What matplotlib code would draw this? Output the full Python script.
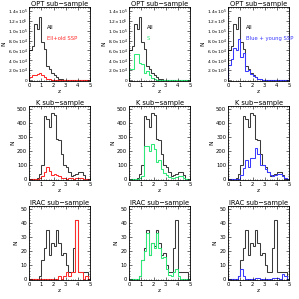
import numpy as np
import matplotlib
matplotlib.use("Agg")
import matplotlib.pyplot as plt
from matplotlib.ticker import MultipleLocator, FixedLocator, FixedFormatter

# bin edges (z), 0.2 wide
z_edges = np.round(np.arange(0, 5.0001, 0.2), 2)

# ---------------- OPT sub-sample (units of 1e4) ----------------
opt_all = [6.0, 7.0, 11.3, 10.3, 12.7, 7.8, 6.3, 2.8, 2.2, 1.5, 1.0, 0.6, 0.35,
           0.2, 0.12, 0.08, 0.05, 0.03, 0.02, 0.01, 0, 0, 0, 0, 0]
opt_ell = [0.6, 1.0, 1.1, 1.3, 1.5, 1.0, 0.6, 0.35, 0.2, 0.1, 0.05, 0.03, 0,
           0, 0, 0, 0, 0, 0, 0, 0, 0, 0, 0, 0]
opt_s = [2.2, 2.2, 5.3, 5.3, 3.4, 3.3, 1.5, 1.8, 1.0, 0.5, 0.3, 0.15, 0.1,
         0.05, 0.03, 0, 0, 0, 0, 0, 0, 0, 0, 0, 0]
opt_blue = [3.1, 4.3, 6.6, 6.0, 8.3, 4.6, 5.5, 1.8, 2.1, 1.3, 0.9, 0.6, 0.35,
            0.2, 0.12, 0.08, 0.05, 0.03, 0.02, 0, 0, 0, 0, 0, 0]

# ---------------- K sub-sample ----------------
k_all = [0, 0, 0, 10, 40, 100, 450, 430, 370, 470, 460, 290, 280,
         180, 100, 85, 50, 20, 30, 40, 55, 50, 30, 5, 0]
k_ell = [3, 3, 3, 3, 8, 20, 55, 85, 60, 30, 40, 30, 20,
         10, 8, 5, 12, 10, 5, 8, 10, 8, 5, 2, 0]
k_s = [2, 2, 2, 2, 10, 20, 240, 240, 200, 250, 215, 120, 135,
       70, 45, 30, 15, 10, 10, 15, 20, 25, 10, 5, 0]
k_blue = [2, 2, 2, 2, 5, 30, 80, 140, 90, 150, 150, 225, 180,
          100, 100, 70, 50, 30, 25, 30, 40, 35, 25, 10, 0]

# ---------------- IRAC sub-sample ----------------
irac_all = [0, 0, 0, 0, 2, 14, 22, 35, 17, 26, 24, 35, 26,
            17, 19, 10, 5, 5, 22, 42, 5, 5, 5, 5, 0]
irac_ell = [0, 0, 0, 0, 0, 0, 0, 0, 0, 0, 0, 0, 2,
            0, 2, 5, 2, 5, 5, 42, 5, 5, 0, 2, 0]
irac_s = [0, 0, 0, 0, 2, 14, 20, 33, 17, 26, 22, 33, 22,
          15, 16, 7, 3, 2, 5, 7, 2, 0, 0, 0, 0]
irac_blue = [0, 0, 0, 0, 2, 7, 2, 0, 0, 0, 0, 1, 1,
             0, 0, 0, 0, 0, 1, 1, 1, 0, 4, 2, 0]

row_titles = ["OPT sub\u2212sample", "K sub\u2212sample", "IRAC sub\u2212sample"]
col_labels = ["Ell+old SSP", "S", "Blue + young SSP"]
col_colors = ["#ff2a2a", "#2ee878", "#3a3aff"]
all_color = "#3a3a3a"

rows = [
    (opt_all, [opt_ell, opt_s, opt_blue], 1e4),
    (k_all, [k_ell, k_s, k_blue], 1.0),
    (irac_all, [irac_ell, irac_s, irac_blue], 1.0),
]

opt_ticks = [0, 2e4, 4e4, 6e4, 8e4, 1e5, 1.2e5, 1.4e5]
opt_ticklabels = ["0", r"$2.0{\times}10^4$", r"$4.0{\times}10^4$", r"$6.0{\times}10^4$",
                  r"$8.0{\times}10^4$", r"$1.0{\times}10^5$", r"$1.2{\times}10^5$",
                  r"$1.4{\times}10^5$"]

W = H = 299
fig = plt.figure(figsize=(2.99, 2.99), dpi=100)
plt.rcParams['font.family'] = ['DejaVu Sans']
plt.rcParams['mathtext.fontset'] = 'dejavusans'

lefts = [29.3, 129.3, 228.3]
tops = [7.3, 106.3, 206.3]
aw, ah = 60.7, 73.7

for r in range(3):
    allv, subs, scale = rows[r]
    for c in range(3):
        ax = fig.add_axes([lefts[c] / W, 1 - (tops[r] + ah) / H, aw / W, ah / H])
        ax.stairs(np.array(allv) * scale, z_edges, color=all_color, lw=0.75)
        ax.stairs(np.array(subs[c]) * scale, z_edges, color=col_colors[c], lw=0.75)
        ax.set_xlim(0, 5)
        ax.xaxis.set_major_locator(MultipleLocator(1))
        ax.xaxis.set_minor_locator(MultipleLocator(0.2))
        ax.tick_params(which="both", direction="in", top=True, right=True,
                       labelsize=3.8, width=0.4, pad=1.5)
        if r == 0:
            ax.set_ylim(-1500, 1.47e5)
            ax.yaxis.set_major_locator(FixedLocator(opt_ticks))
            ax.yaxis.set_major_formatter(FixedFormatter(opt_ticklabels))
            ax.yaxis.set_minor_locator(MultipleLocator(5e3))
            ax.tick_params(axis="y", labelsize=3.2, pad=1.2)
            ax.text(0.29, 0.73, "All", transform=ax.transAxes, fontsize=3.8,
                    color="black", va="center", ha="left")
            ax.text(0.29, 0.57, col_labels[c], transform=ax.transAxes, fontsize=3.8,
                    color=col_colors[c], va="center", ha="left", clip_on=False)
            ax.set_ylabel("N", fontsize=4.2, labelpad=1.0)
        elif r == 1:
            ax.set_ylim(-5, 521)
            ax.yaxis.set_major_locator(MultipleLocator(100))
            ax.yaxis.set_minor_locator(MultipleLocator(20))
            ax.set_ylabel("N", fontsize=4.2, labelpad=1.5)
        else:
            ax.set_ylim(-0.5, 52)
            ax.yaxis.set_major_locator(MultipleLocator(10))
            ax.yaxis.set_minor_locator(MultipleLocator(2))
            ax.set_ylabel("N", fontsize=4.2, labelpad=1.5)
        ax.set_title(row_titles[r], fontsize=4.8, pad=1.0)
        ax.set_xlabel("z", fontsize=4.2, labelpad=0.8)
        ax.tick_params(which="major", length=2.0)
        ax.tick_params(which="minor", length=1.0)
        for sp in ax.spines.values():
            sp.set_linewidth(0.6)

fig.savefig("out.png", dpi=100)
